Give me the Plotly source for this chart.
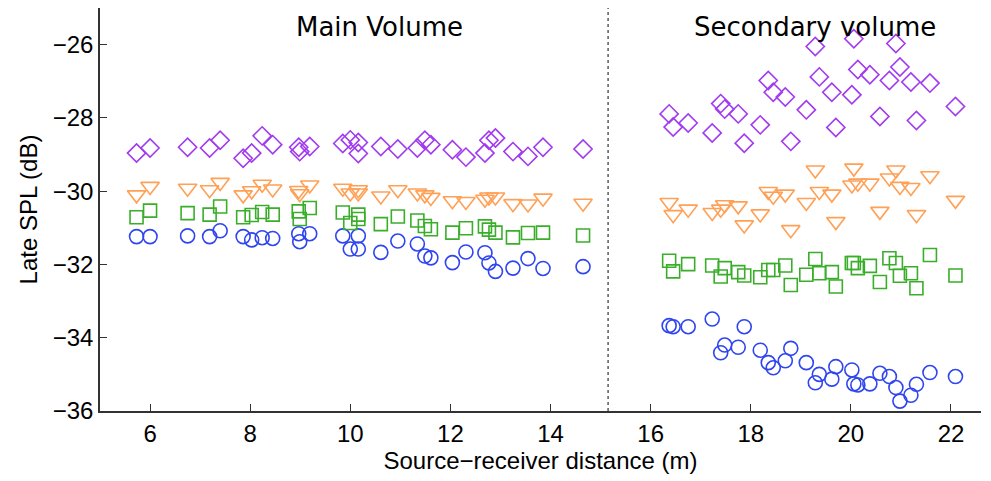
import plotly.graph_objects as go

# Main volume receiver distances (m)
x_main = [5.73, 6.0, 6.75, 7.19, 7.40, 7.86, 8.03, 8.24, 8.45, 8.97, 8.99, 9.19,
          9.85, 10.0, 10.16, 10.16, 10.61, 10.95, 11.34, 11.49, 11.61, 12.04,
          12.31, 12.69, 12.77, 12.90, 13.25, 13.55, 13.85, 14.65]
circ_main = [-31.24, -31.24, -31.22, -31.24, -31.08, -31.24, -31.33, -31.27, -31.29, -31.16, -31.38, -31.16,
             -31.22, -31.58, -31.22, -31.58, -31.67, -31.36, -31.44, -31.77, -31.82, -31.95,
             -31.66, -31.68, -31.96, -32.19, -32.10, -31.84, -32.11, -32.06]
sq_main = [-30.71, -30.53, -30.60, -30.64, -30.42, -30.71, -30.65, -30.57, -30.64, -30.55, -30.76, -30.46,
           -30.58, -30.87, -30.64, -30.76, -30.90, -30.69, -30.80, -30.95, -31.04, -31.13,
           -31.01, -30.96, -31.05, -31.13, -31.26, -31.14, -31.13, -31.21]
tri_main = [-30.10, -29.87, -29.92, -29.96, -29.76, -30.10, -29.99, -29.81, -29.94, -29.98, -30.07, -29.83,
            -29.92, -30.05, -30.05, -29.96, -30.13, -29.96, -30.05, -30.10, -30.17, -30.26,
            -30.28, -30.22, -30.16, -30.16, -30.34, -30.35, -30.19, -30.33]
dia_main = [-28.96, -28.82, -28.80, -28.82, -28.61, -29.10, -28.96, -28.49, -28.73, -28.80, -28.92, -28.78,
            -28.70, -28.60, -28.67, -28.97, -28.78, -28.85, -28.82, -28.61, -28.73, -28.87,
            -29.07, -28.96, -28.61, -28.55, -28.92, -29.05, -28.80, -28.85]

# Secondary volume receiver distances (m)
x_sec = [16.37, 16.45, 16.75, 17.23, 17.40, 17.48, 17.75, 17.87, 18.19, 18.35, 18.45, 18.69,
         18.80, 19.11, 19.29, 19.37, 19.62, 19.70, 20.02, 20.06, 20.14, 20.38, 20.58, 20.77,
         20.90, 20.98, 21.20, 21.31, 21.58, 22.09]
circ_sec = [-33.67, -33.70, -33.70, -33.49, -34.41, -34.20, -34.26, -33.70, -34.34, -34.68, -34.82, -34.63,
            -34.29, -34.68, -35.23, -35.00, -35.13, -34.79, -34.88, -35.26, -35.29, -35.26, -34.97, -35.06,
            -35.36, -35.73, -35.57, -35.27, -34.95, -35.06]
sq_sec = [-31.90, -32.19, -31.99, -32.03, -32.33, -32.10, -32.21, -32.30, -32.35, -32.15, -32.15, -32.03,
          -32.56, -32.28, -31.85, -32.24, -32.21, -32.60, -31.96, -31.96, -32.10, -32.04, -32.48, -31.83,
          -31.96, -32.31, -32.24, -32.65, -31.74, -32.30]
tri_sec = [-30.31, -30.64, -30.49, -30.58, -30.49, -30.37, -30.40, -30.92, -30.62, -30.01, -30.14, -30.08,
           -31.05, -30.31, -29.42, -30.01, -30.08, -30.83, -29.83, -29.37, -29.78, -29.78, -30.55, -29.64,
           -29.42, -29.87, -29.90, -30.64, -29.58, -30.25]
dia_sec = [-27.89, -28.25, -28.14, -28.41, -27.61, -27.76, -27.89, -28.69, -28.19, -26.98, -27.30, -27.43,
           -28.64, -27.78, -26.05, -26.88, -27.30, -28.26, -27.37, -25.84, -26.68, -26.82, -27.96, -26.98,
           -25.97, -26.61, -27.02, -28.07, -27.05, -27.69]

divider_x = 15.15
x_ticks = [6, 8, 10, 12, 14, 16, 18, 20, 22]
y_ticks = [-36, -34, -32, -30, -28, -26]

series = [
    (circ_main + circ_sec, "circle-open", "#2f45f0", 14),
    (sq_main + sq_sec, "square-open", "#3aae2a", 13),
    (tri_main + tri_sec, "triangle-down-open", "#ffa055", 16),
    (dia_main + dia_sec, "diamond-open", "#a23af0", 14),
]
x_all = x_main + x_sec

fig = go.Figure()
for ys, sym, col, sz in series:
    fig.add_trace(go.Scatter(
        x=x_all, y=ys, mode="markers",
        marker=dict(symbol=sym, size=sz, color=col, line=dict(width=1.6, color=col)),
        showlegend=False, hoverinfo="x+y"))

fig.add_shape(type="line", x0=divider_x, x1=divider_x, y0=-36, y1=-25,
              xref="x", yref="y", line=dict(color="#333333", width=1.2, dash="dot"))

fig.add_annotation(x=10.58, y=-25.51, text="Main Volume", showarrow=False,
                   font=dict(family="DejaVu Sans", size=26, color="black"))
fig.add_annotation(x=19.29, y=-25.51, text="Secondary volume", showarrow=False,
                   font=dict(family="DejaVu Sans", size=26, color="black"))

axis_font = dict(family="Liberation Sans, Arial", size=24, color="black")
fig.update_xaxes(range=[5.0, 22.6], tickvals=x_ticks, ticks="inside", ticklen=7,
                 tickcolor="#333333", showline=True, linecolor="#333333", linewidth=1.5,
                 showgrid=False, zeroline=False, tickfont=axis_font,
                 title=dict(text="Source\u2212receiver distance (m)", font=axis_font, standoff=4))
fig.update_yaxes(range=[-36, -25], tickvals=y_ticks, ticks="inside", ticklen=7,
                 tickcolor="#333333", showline=True, linecolor="#333333", linewidth=1.5,
                 showgrid=False, zeroline=False, tickfont=axis_font,
                 title=dict(text="Late SPL (dB)", font=axis_font, standoff=8))

fig.update_layout(width=991, height=481, plot_bgcolor="white", paper_bgcolor="white",
                  margin=dict(l=100, r=10, t=8, b=70))

fig.write_html("out.html")
